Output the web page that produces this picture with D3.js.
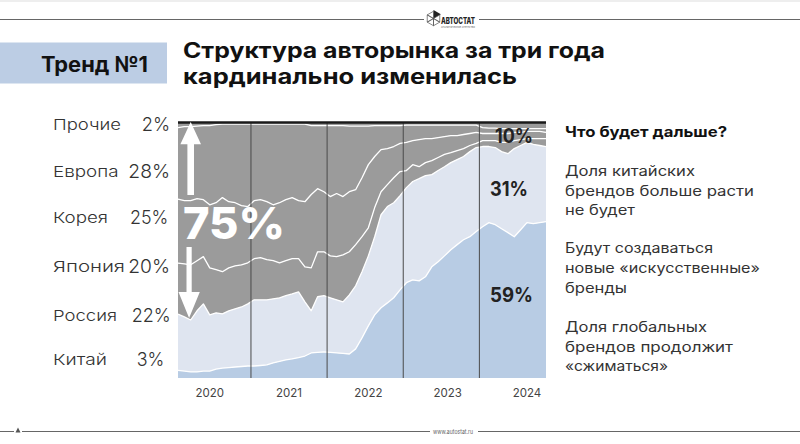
<!DOCTYPE html>
<html><head><meta charset="utf-8">
<script src="https://cdn.jsdelivr.net/npm/d3@7/dist/d3.min.js"></script>
<style>
html,body{margin:0;padding:0;background:#fff;}
svg{display:block;font-family:Inter,"Noto Sans","Open Sans",sans-serif;}
</style></head><body>
<svg id="c" width="800" height="444"></svg>
<script>
// ---- DATA ----
const months = d3.timeMonth.range(new Date(2020,0,1), new Date(2024,11,1)); // Jan 2020 .. Nov 2024
const seriesKeys = ["china","russia","japan","korea","europe","others"];
const china = [3.0,2.7,2.4,2.4,2.7,2.7,3.5,3.9,4.1,4.3, 4.5,4.7,4.7,4.9,5.1,5.9,6.5,7.1,7.5,8.0, 8.6,9.8,10.0,10.2,10.0,9.8,9.6,9.4,11.4,15.7, 20.4,24.7,27.5,29.4,31.4,34.5,37.3,38.4,38.0,39.6, 43.5,45.5,47.8,50.2,52.2,54.1,55.3,57.3,59.2,60.8, 60.0,58.4,56.9,55.3,58.0,60.8,60.4,60.8,61.2];
const russia = [22.0,21.2,20.3,23.9,26.3,22.0,22.0,21.2,22.2,22.8, 23.3,24.3,25.9,25.7,25.5,25.1,24.9,25.1,25.4,25.7, 21.2,16.5,21.8,22.0,21.4,20.8,20.2,23.1,24.7,25.9, 27.4,30.6,36.4,37.7,37.2,36.9,37.2,38.5,40.0,39.6, 36.1,35.7,34.9,34.1,33.3,32.6,33.3,32.9,31.4,29.8, 30.2,30.2,30.9,34.5,33.0,31.4,31.0,30.2,29.4];
const japan = [20.0,20.8,21.6,19.6,18.5,18.4,16.9,16.5,16.8,16.8, 16.5,16.1,16.1,16.5,15.7,14.9,13.7,13.7,13.8,13.0, 13.7,16.8,17.6,17.2,16.4,16.9,18.4,16.9,16.1,13.7, 11.0,11.4,9.0,8.6,9.8,9.4,6.7,6.6,4.7,5.1, 5.5,5.1,4.8,3.9,3.5,3.1,2.4,1.6,2.3,2.3, 2.7,3.6,4.4,3.1,2.3,1.5,2.3,2.7,3.1];
const korea = [25.0,24.7,25.1,24.3,22.3,24.7,26.2,29.0,25.9,24.7, 23.2,22.0,22.7,22.7,22.7,21.9,23.5,23.9,23.9,22.7, 25.5,28.7,24.7,23.5,23.2,24.7,22.8,23.5,21.5,23.1, 24.7,20.0,16.5,14.1,12.2,11.0,11.0,9.4,10.6,9.4, 8.6,7.8,7.0,6.7,5.9,5.5,4.7,4.3,2.8,2.8, 2.8,3.5,3.5,3.2,2.8,2.8,2.8,2.8,2.4];
const europe = [28.0,29.0,29.0,28.4,29.0,31.0,30.6,28.8,30.4,30.8, 31.9,32.3,30.0,29.6,30.4,31.6,30.8,29.6,28.8,30.0, 30.4,27.0,24.7,25.9,27.8,26.6,27.8,25.7,24.9,20.2, 15.1,12.1,9.4,9.0,8.2,7.0,6.8,6.1,5.7,5.3, 5.3,4.9,4.5,4.1,4.1,3.7,3.3,2.9,2.3,2.1, 2.1,1.9,1.9,1.5,1.5,1.1,1.1,1.1,1.5];
const others = [2.0,1.6,1.6,1.4,1.2,1.2,0.8,0.6,0.6,0.6, 0.6,0.6,0.6,0.6,0.6,0.6,0.6,0.6,0.6,0.6, 0.6,1.2,1.2,1.2,1.2,1.2,1.2,1.4,1.4,1.4, 1.4,1.2,1.2,1.2,1.2,1.2,1.0,1.0,1.0,1.0, 1.0,1.0,1.0,1.0,1.0,1.0,1.0,1.0,2.0,2.2, 2.2,2.4,2.4,2.4,2.4,2.4,2.4,2.4,2.4];
const legendNames = ["Прочие","Европа","Корея","Япония","Россия","Китай"];
const legendShares = ["2%","28%","25%","20%","22%","3%"];
const yearLabels = ["2020","2021","2022","2023","2024"];
const yearLabelMonth = [5, 17.5, 30, 42.5, 55];
const endLabels = ["10%","31%","59%"];
const title = ["Структура авторынка за три года","кардинально изменилась"];
const badge = "Тренд №1";
const sideHead = "Что будет дальше?";
const sideLines = [["Доля китайских","брендов больше расти","не будет"],["Будут создаваться","новые «искусственные»","бренды"],["Доля глобальных","брендов продолжит","«сжиматься»"]];

// ---- DRAW ----
const svg = d3.select("#c");
const x = d3.scaleLinear().domain([0, months.length-1]).range([178, 546]);
const y = d3.scaleLinear().domain([0, 100]).range([378, 122.5]);
const table = months.map((m,i)=>({china:china[i],russia:russia[i],japan:japan[i],korea:korea[i],europe:europe[i],others:others[i]}));
const stacked = d3.stack().keys(seriesKeys)(table);
const fill = {china:"#b8cce4",russia:"#dfe5f0",japan:"#9b9b9b",korea:"#9b9b9b",europe:"#9b9b9b",others:"#9b9b9b"};

function T(s, px, py, o){
  const t = svg.append("text").attr("x",px).attr("y",py).text(s)
    .attr("font-size",o.size).attr("font-weight",o.weight||400).attr("fill",o.color||"#222");
  if(o.anchor) t.attr("text-anchor",o.anchor);
  if(o.len) t.attr("textLength",o.len).attr("lengthAdjust","spacingAndGlyphs");
  return t;
}

// page frame lines
svg.append("line").attr("x1",0).attr("x2",800).attr("y1",1).attr("y2",1).attr("stroke","#e8e8e8").attr("stroke-width",1.5);
svg.append("line").attr("x1",0).attr("x2",424).attr("y1",19.5).attr("y2",19.5).attr("stroke","#666").attr("stroke-width",1);
svg.append("line").attr("x1",479).attr("x2",800).attr("y1",19.5).attr("y2",19.5).attr("stroke","#666").attr("stroke-width",1);
// logo
const lg = svg.append("g").attr("transform","translate(433.5,18.5)");
const hex = d3.range(6).map(k=>[8.5*Math.cos(Math.PI/3*k - Math.PI/2), 8.5*Math.sin(Math.PI/3*k - Math.PI/2)]);
lg.append("polygon").attr("points",[[0,0],hex[0],hex[1]].join(" ")).attr("fill","#222");
for(let k=1;k<6;k++){
  lg.append("polygon").attr("points",[[0,0],hex[k],hex[(k+1)%6]].map(p=>[p[0]*0.85,p[1]*0.85]).join(" ")).attr("fill","none").attr("stroke","#555").attr("stroke-width",0.7);
}
T("АВТОСТАТ",441,24,{size:8.5,weight:800,color:"#222",len:34});
T("АНАЛИТИЧЕСКОЕ АГЕНТСТВО",441,28,{size:2.6,weight:400,color:"#555",len:34});
// footer
svg.append("line").attr("x1",0).attr("x2",14).attr("y1",431.5).attr("y2",431.5).attr("stroke","#666");
svg.append("line").attr("x1",22).attr("x2",430).attr("y1",431.5).attr("y2",431.5).attr("stroke","#666");
svg.append("line").attr("x1",478).attr("x2",800).attr("y1",431.5).attr("y2",431.5).attr("stroke","#666");
svg.append("polygon").attr("points","18,427.5 15.5,432.5 20.5,432.5").attr("fill","#555");
T("www.autostat.ru",433,434,{size:7,color:"#666",len:40});

// badge
svg.append("rect").attr("x",0).attr("y",42.5).attr("width",167).attr("height",41).attr("fill","#bccde4");
T(badge,41,71.7,{size:21,weight:700,color:"#111",len:107});
// title
T(title[0],183,58,{size:21,weight:700,color:"#111",len:422});
T(title[1],183,83.5,{size:21,weight:700,color:"#111",len:334});

// areas
const area = d3.area().x((d,i)=>x(i)).y0(d=>y(d[0])).y1(d=>y(d[1]));
const lineTop = d3.line().x((d,i)=>x(i)).y(d=>y(d[1]));
svg.append("g").selectAll("path").data(stacked).join("path")
  .attr("d",area).attr("fill",d=>fill[d.key]);
svg.append("g").selectAll("path").data(stacked.slice(0,5)).join("path")
  .attr("d",lineTop).attr("fill","none").attr("stroke","#fff").attr("stroke-width",1.3).attr("stroke-linejoin","round");

// year dividers
for(let k=1;k<yearLabels.length;k++){
  const xv = x(12*k-0.5);
  svg.append("line").attr("x1",xv).attr("x2",xv).attr("y1",y(100)).attr("y2",y(0)).attr("stroke","#4a4a4a").attr("stroke-width",1);
}
// top black line
svg.append("line").attr("x1",x(0)).attr("x2",x(months.length-1)).attr("y1",y(100)).attr("y2",y(100)).attr("stroke","#1a1a1a").attr("stroke-width",2.5);

// year labels
yearLabels.forEach((s,i)=>T(s,x(yearLabelMonth[i]),396.5,{size:11.5,color:"#444",anchor:"middle"}));

// arrows + 75%
svg.append("polygon").attr("points","190.7,122 201,144.3 194,144.3 194,195 187.4,195 187.4,144.3 180.4,144.3").attr("fill","#fff");
svg.append("polygon").attr("points","186.5,247 191.7,247 191.7,292 199.8,292 189.1,318 178.5,292 186.5,292").attr("fill","#fff");
T("75%",183,238.5,{size:44,weight:800,color:"#fff",len:102});

// end labels
const endY = [142.5,195.5,302];
const endX = [[495,38],[490,38],[490,43]];
endLabels.forEach((s,i)=>T(s,endX[i][0],endY[i],{size:20,weight:700,color:"#222",len:endX[i][1]}));

// legend
const legY = [130,176.7,223.3,272.3,320.7,364.5];
const legNameW = [68,65.5,55,72,64,54];
const legShareX = [170,170,168.3,170,170.7,164.3];
const legShareW = [28.3,41.7,38.3,41.7,39,27.6];
legendNames.forEach((s,i)=>{
  T(s,53,legY[i],{size:15,weight:300,color:"#333",len:legNameW[i]});
  T(legendShares[i],legShareX[i]-legShareW[i],legY[i]+1,{size:18.5,weight:300,color:"#333",len:legShareW[i]});
});

// side text
T(sideHead,565,136.7,{size:14.5,weight:700,color:"#111",len:162});
const sideBase = [[175.5,195.5,215],[253.3,273.3,293.3],[331.7,351.7,371]];
const sideW = [[130,189,70],[148,195,62],[142,168,103]];
sideLines.forEach((g,gi)=>g.forEach((s,li)=>T(s,565,sideBase[gi][li],{size:14,weight:400,color:"#333",len:sideW[gi][li]})));
</script></body></html>
